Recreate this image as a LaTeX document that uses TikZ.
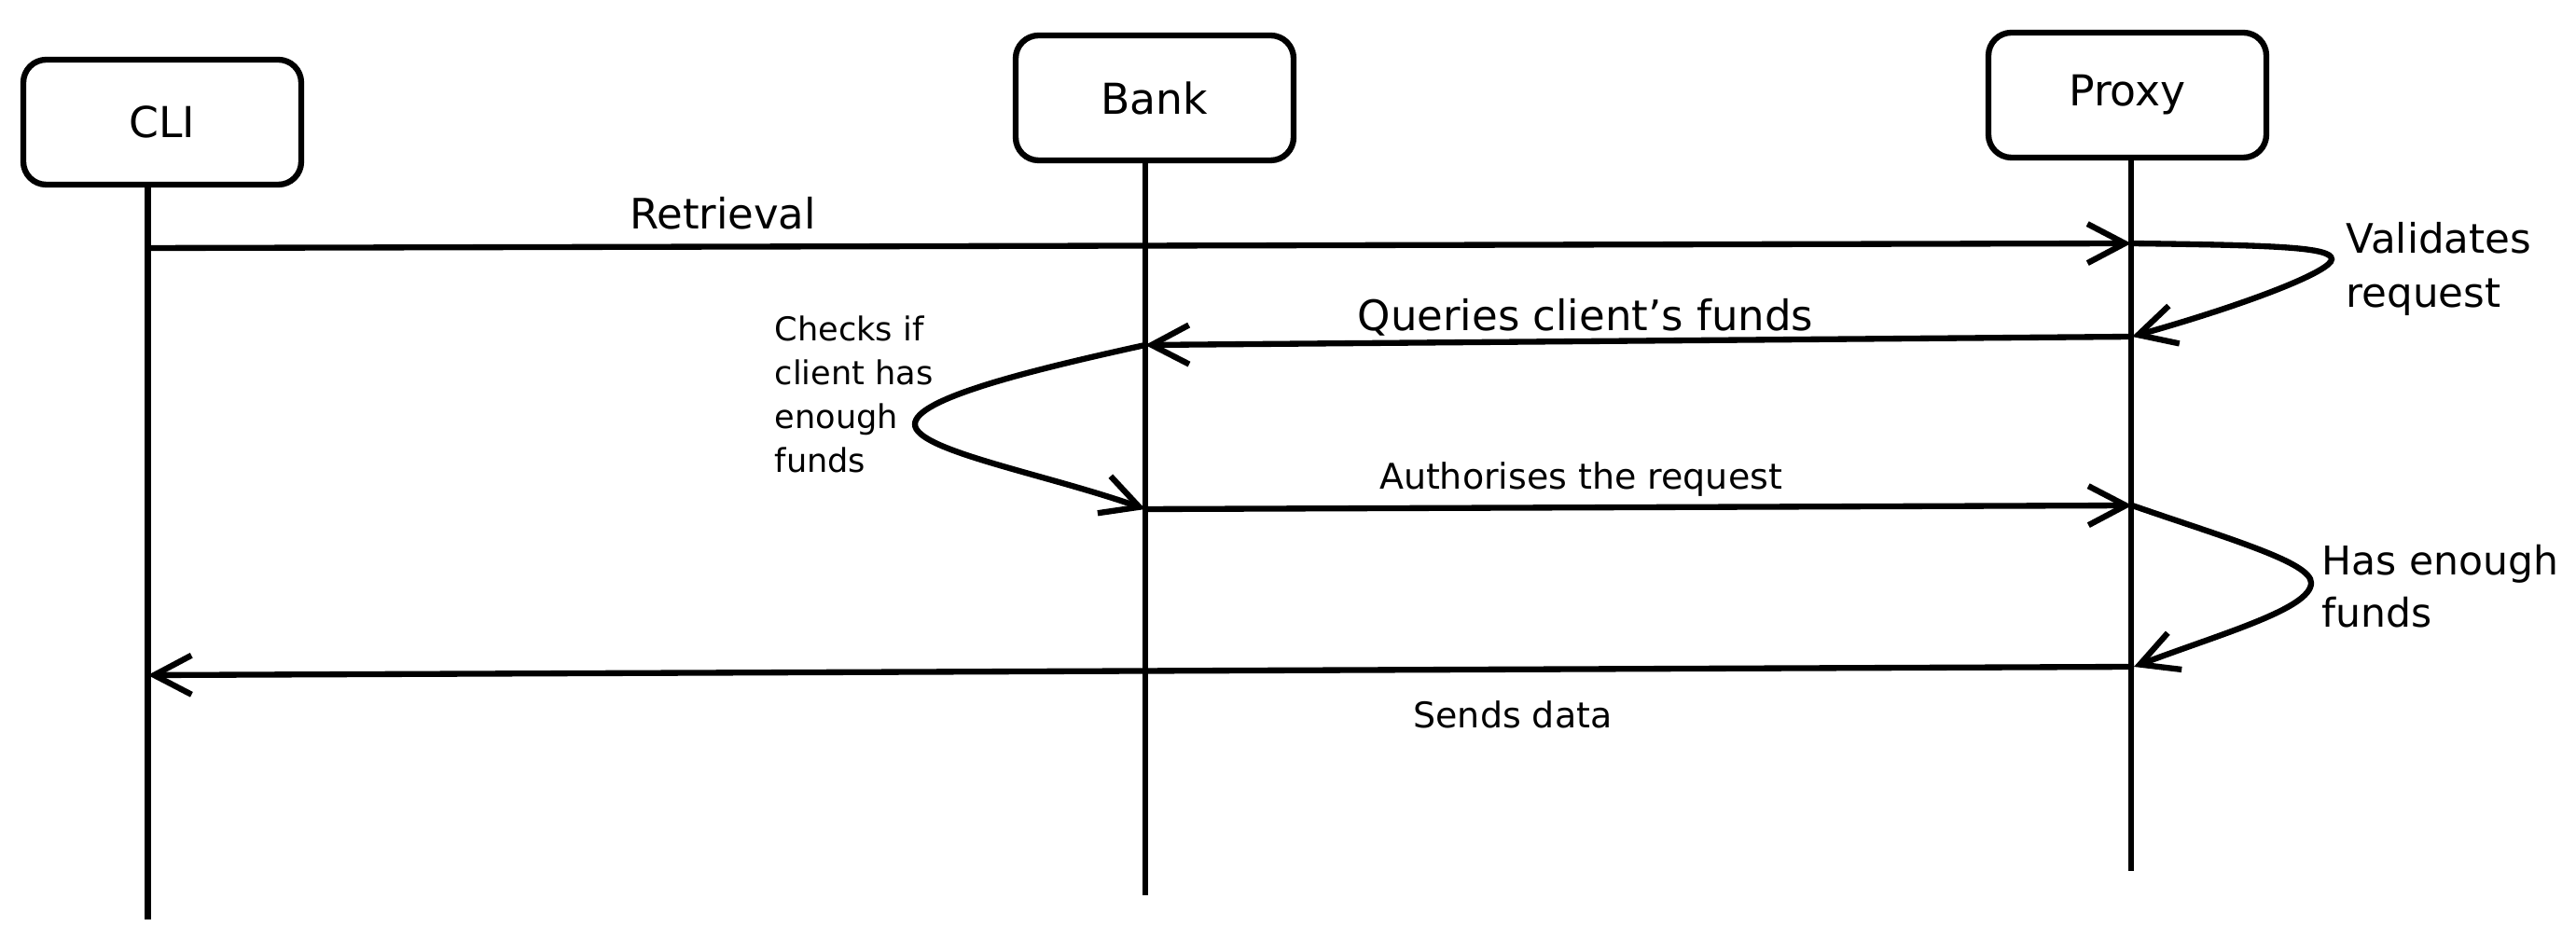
\documentclass[tikz,border=0pt]{standalone}
\usepackage{fontspec}
\setmainfont{DejaVu Sans}
\usetikzlibrary{arrows.meta}
\begin{document}
\begin{tikzpicture}[
    actor/.style={draw, rectangle, rounded corners=7pt, line width=1.8pt, minimum width=2.98cm, minimum height=1.34cm, align=center, font=\fontsize{13}{15}\selectfont},
    lifeline/.style={line width=1.8pt},
    msg/.style={-{Straight Barb[length=4mm,width=4.2mm]}, line width=1.8pt},
    biglabel/.style={font=\fontsize{12.8}{15}\selectfont},
    smalllabel/.style={font=\fontsize{10.8}{13}\selectfont},
    note/.style={align=left, anchor=west, inner sep=0pt, font=\fontsize{12.4}{16.5}\selectfont}
]
    \useasboundingbox (0,0) rectangle (27.62,10.08);

    \node[actor] (cli) at (1.74,8.77) {CLI};
    \node[actor] (bank) at (12.38,9.03) {Bank};
    \node[actor] (proxy) at (22.81,9.06) {Proxy};

    % lifelines
    \coordinate (cliend) at (1.585,0.22);
    \coordinate (bankend) at (12.28,0.48);
    \coordinate (proxyend) at (22.85,0.74);
    \draw[lifeline] (cli.south -| cliend) -- (cliend);
    \draw[lifeline] (bank.south -| bankend) -- (bankend);
    \draw[lifeline] (proxy.south -| proxyend) -- (proxyend);

    % message points
    \coordinate (c1) at (1.585,7.42);
    \coordinate (p1) at (22.85,7.47);
    \coordinate (p2) at (22.86,6.47);
    \coordinate (b2) at (12.28,6.38);
    \coordinate (b3) at (12.28,4.62);
    \coordinate (p3) at (22.86,4.66);
    \coordinate (p4) at (22.88,2.93);
    \coordinate (c4) at (1.585,2.84);

    \draw[msg] (c1) -- (p1);
    \node[biglabel] (retrieval) at (7.75,7.79) {Retrieval};

    \draw[msg] (p1) .. controls (24.4,7.45) and (25.0,7.43) .. (25.0,7.30)
        .. controls (25.0,7.18) and (24.2,6.85) .. (p2);
    \node[note] (validates) at (25.15,7.20) {Validates\\request};

    \draw[msg] (p2) -- (b2);
    \node[biglabel] (queries) at (17.0,6.68) {Queries client's funds};

    \draw[msg] (b2) .. controls (11.0,6.1) and (9.81,5.8) .. (9.81,5.53)
        .. controls (9.81,5.25) and (11.2,5.0) .. (b3);
    \node[note, font=\fontsize{10}{13.4}\selectfont] (checks) at (8.30,5.85) {Checks if\\client has\\enough\\funds};

    \draw[msg] (b3) -- (p3);
    \node[smalllabel] (authorises) at (16.95,4.94) {Authorises the request};

    \draw[msg] (p3) .. controls (23.9,4.3) and (24.78,4.05) .. (24.78,3.83)
        .. controls (24.78,3.55) and (23.8,3.28) .. (p4);
    \node[note, font=\fontsize{12.1}{16}\selectfont] (hasfunds) at (24.89,3.79) {Has enough\\funds};

    \draw[msg] (p4) -- (c4);
    \node[smalllabel] (sends) at (16.22,2.42) {Sends data};
\end{tikzpicture}
\end{document}
